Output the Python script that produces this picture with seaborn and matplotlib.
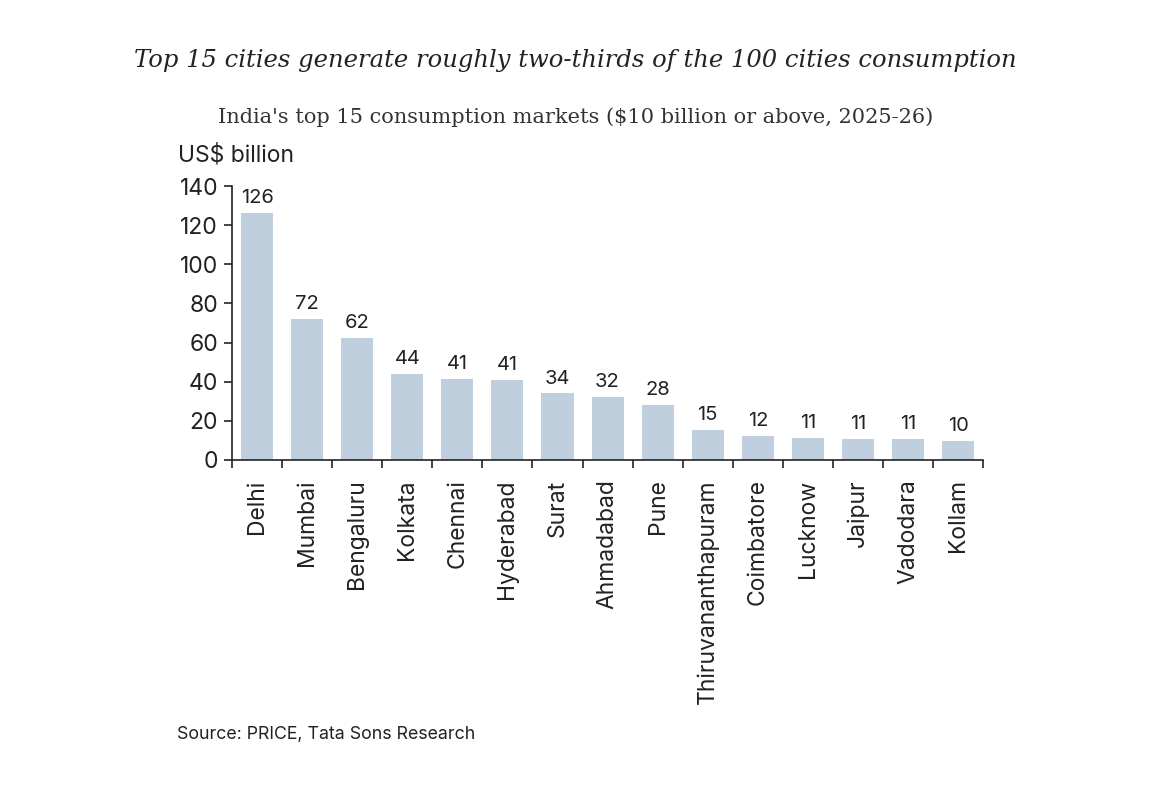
import numpy as np
import pandas as pd
import seaborn as sns
import matplotlib.pyplot as plt

# Data
cities = ['Delhi', 'Mumbai', 'Bengaluru', 'Kolkata', 'Chennai', 'Hyderabad', 'Surat',
          'Ahmadabad', 'Pune', 'Thiruvananthapuram', 'Coimbatore', 'Lucknow', 'Jaipur',
          'Vadodara', 'Kollam']
consumption = [126.2, 72.0, 62.2, 43.8, 41.3, 40.9, 34.0, 32.0, 28.0, 15.3, 12.3, 11.2, 10.7,
               10.7, 9.7]
value_labels = ['126', '72', '62', '44', '41', '41', '34', '32', '28', '15', '12', '11', '11',
                '11', '10']

df = pd.DataFrame({'city': cities, 'value': consumption})

sns.set_theme(style='white')
sans = ['Inter', 'DejaVu Sans']
serif = ['DejaVu Serif']
plt.rcParams['font.family'] = sans
dark = '#222222'

fig = plt.figure(figsize=(11.51, 7.94), dpi=100)
ax = fig.add_axes([0.2016, 0.4207, 0.6525, 0.345])

sns.barplot(data=df, x='city', y='value', color='#bfcfdd', saturation=1, width=0.64,
            linewidth=0, ax=ax)

for i, (v, lab) in enumerate(zip(consumption, value_labels)):
    ax.text(i, v + 3, lab, ha='center', va='bottom', fontsize=14.5, color=dark)

ax.set_xlim(-0.5, len(cities) - 0.5)
ax.set_ylim(0, 140)
ax.set_yticks(range(0, 141, 20))
ax.set_xlabel('')
ax.set_ylabel('')
for s in ['top', 'right']:
    ax.spines[s].set_visible(False)
for s in ['left', 'bottom']:
    ax.spines[s].set_color(dark)
    ax.spines[s].set_linewidth(1.2)

ax.tick_params(axis='y', left=True, length=6, width=1.2, color=dark, labelsize=16.5,
               labelcolor=dark, pad=4)
ax.set_xticks(range(len(cities)))
ax.set_xticklabels(cities, rotation=90, fontsize=16.5, color=dark)
ax.tick_params(axis='x', bottom=False, pad=8)
# ticks at category boundaries
ax.set_xticks(np.arange(-0.5, len(cities)), minor=True)
ax.tick_params(axis='x', which='minor', bottom=True, length=6, width=1.2, color=dark)

fig.text(0.5, 0.924, 'Top 15 cities generate roughly two-thirds of the 100 cities consumption',
         ha='center', va='center', fontsize=17.5, style='italic', family=serif, color=dark)
fig.text(0.5, 0.853, "India's top 15 consumption markets ($10 billion or above, 2025-26)",
         ha='center', va='center', fontsize=15, family=serif, color='#333333')
fig.text(0.155, 0.805, 'US$ billion', ha='left', va='center', fontsize=16.5, color=dark)
fig.text(0.154, 0.075, 'Source: PRICE, Tata Sons Research', ha='left', va='center',
         fontsize=12.8, color=dark)

fig.savefig('out.png', dpi=100, facecolor='white')
